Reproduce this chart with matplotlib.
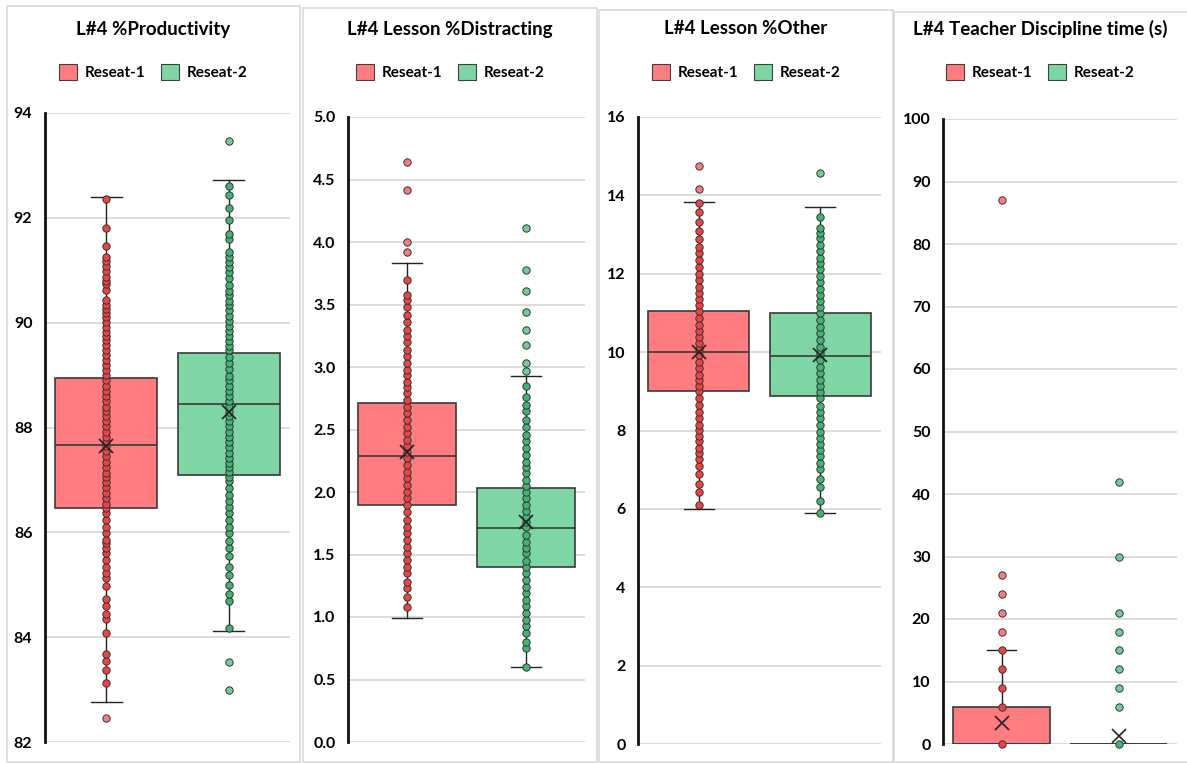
import matplotlib.pyplot as plt
from matplotlib.patches import Rectangle, Patch

W, H = 1187, 763
plt.rcParams['font.family'] = ['Lato', 'DejaVu Sans']

groups = ['Reseat-1', 'Reseat-2']
titles = ['L#4 %Productivity', 'L#4 Lesson %Distracting',
          'L#4 Lesson %Other', 'L#4 Teacher Discipline time (s)']

# --- L#4 %Productivity ---
prod_r1 = [82.46, 83.13, 83.38, 83.54, 83.68, 84.07, 84.34, 84.45, 84.59, 84.73,
           84.98, 85.12, 85.22, 85.33, 85.48, 85.60, 85.70, 85.79, 85.86, 85.98,
           86.11, 86.24, 86.36, 86.46, 86.55, 86.65, 86.75, 86.86, 86.96, 87.05,
           87.14, 87.24, 87.35, 87.46, 87.55, 87.64, 87.72, 87.82, 87.92, 88.02,
           88.12, 88.22, 88.31, 88.40, 88.50, 88.60, 88.70, 88.80, 88.90, 89.00,
           89.10, 89.19, 89.28, 89.38, 89.47, 89.57, 89.66, 89.74, 89.83, 89.92,
           90.01, 90.10, 90.18, 90.26, 90.34, 90.43, 90.62, 90.73, 90.80, 90.88,
           90.98, 91.09, 91.18, 91.26, 91.47, 91.80, 92.35]
prod_r2 = [83.00, 83.52, 84.17, 84.69, 84.83, 84.99, 85.18, 85.34, 85.54, 85.70,
           85.83, 85.98, 86.11, 86.24, 86.36, 86.49, 86.60, 86.71, 86.84, 86.97,
           87.06, 87.15, 87.24, 87.33, 87.42, 87.52, 87.62, 87.72, 87.82, 87.92,
           88.02, 88.12, 88.22, 88.30, 88.40, 88.50, 88.60, 88.70, 88.80, 88.90,
           88.99, 89.11, 89.24, 89.35, 89.47, 89.55, 89.65, 89.74, 89.84, 89.93,
           90.03, 90.13, 90.24, 90.33, 90.41, 90.52, 90.61, 90.71, 90.85, 90.96,
           91.07, 91.16, 91.26, 91.35, 91.59, 91.70, 91.96, 92.18, 92.44, 92.61, 93.47]
prod_q1 = [86.47, 87.10]
prod_med = [87.67, 88.45]
prod_q3 = [88.95, 89.43]
prod_lo = [82.77, 84.12]
prod_hi = [92.40, 92.72]
prod_mean = [87.65, 88.30]

# --- L#4 Lesson %Distracting ---
dist_r1 = [1.08, 1.16, 1.23, 1.28, 1.35, 1.40, 1.46, 1.51, 1.56, 1.62, 1.67, 1.72,
           1.78, 1.84, 1.90, 1.95, 2.00, 2.06, 2.11, 2.16, 2.22, 2.27, 2.32, 2.37,
           2.42, 2.47, 2.52, 2.58, 2.63, 2.68, 2.74, 2.79, 2.84, 2.88, 2.94, 2.98,
           3.03, 3.09, 3.14, 3.20, 3.25, 3.30, 3.36, 3.42, 3.48, 3.54, 3.58, 3.70,
           3.92, 4.00, 4.42, 4.64]
dist_r2 = [0.60, 0.75, 0.80, 0.87, 0.93, 0.98, 1.03, 1.09, 1.14, 1.19, 1.24, 1.30,
           1.35, 1.40, 1.45, 1.51, 1.55, 1.60, 1.66, 1.72, 1.76, 1.80, 1.85, 1.90,
           1.95, 2.00, 2.05, 2.10, 2.15, 2.20, 2.24, 2.30, 2.35, 2.41, 2.46, 2.52,
           2.58, 2.65, 2.70, 2.76, 2.85, 2.97, 3.03, 3.18, 3.30, 3.44, 3.61, 3.78, 4.11]
dist_q1 = [1.90, 1.40]
dist_med = [2.29, 1.71]
dist_q3 = [2.71, 2.03]
dist_lo = [0.99, 0.60]
dist_hi = [3.83, 2.93]
dist_mean = [2.32, 1.76]

# --- L#4 Lesson %Other ---
other_r1 = [6.10, 6.42, 6.64, 6.89, 7.10, 7.27, 7.42, 7.55, 7.72, 7.86, 8.02, 8.15,
            8.32, 8.48, 8.66, 8.83, 9.00, 9.14, 9.29, 9.42, 9.59, 9.76, 9.93, 10.08,
            10.23, 10.38, 10.53, 10.70, 10.87, 11.04, 11.21, 11.35, 11.51, 11.66,
            11.83, 12.00, 12.18, 12.35, 12.52, 12.69, 12.88, 13.09, 13.33, 13.57,
            13.80, 14.16, 14.76]
other_r2 = [5.89, 6.21, 6.56, 6.76, 7.02, 7.17, 7.34, 7.51, 7.66, 7.81, 7.97, 8.15,
            8.32, 8.48, 8.63, 8.83, 8.98, 9.14, 9.29, 9.46, 9.63, 9.80, 9.97, 10.14,
            10.31, 10.48, 10.65, 10.82, 11.00, 11.16, 11.31, 11.46, 11.61, 11.78,
            11.95, 12.12, 12.27, 12.41, 12.57, 12.74, 12.91, 13.04, 13.16, 13.44, 14.57]
other_q1 = [9.00, 8.87]
other_med = [10.00, 9.91]
other_q3 = [11.06, 11.00]
other_lo = [6.00, 5.89]
other_hi = [13.84, 13.70]
other_mean = [10.00, 9.93]

# --- L#4 Teacher Discipline time (s) ---
disc_r1 = [0, 6, 9, 12, 15, 18, 21, 24, 27, 87]
disc_r2 = [0, 6, 9, 12, 15, 18, 21, 30, 42]
disc_q1 = [0, 0]
disc_med = [0, 0]
disc_q3 = [6, 0]
disc_lo = [0, 0]
disc_hi = [15, 0]
disc_mean = [3.36, 1.33]

box_colors = ['#FF7C80', '#7ED6A5']
inner_colors = ['#E84646', '#42B574']
outer_colors = ['#F47E7E', '#70CE98']

panels = [
    dict(pts=(prod_r1, prod_r2), q1=prod_q1, med=prod_med, q3=prod_q3, lo=prod_lo,
         hi=prod_hi, mean=prod_mean, ticks=range(82, 95, 2), fmt='{:.0f}',
         ax=(45, 113, 290, 742), frame=(7, 6, 300, 762)),
    dict(pts=(dist_r1, dist_r2), q1=dist_q1, med=dist_med, q3=dist_q3, lo=dist_lo,
         hi=dist_hi, mean=dist_mean, ticks=[i * 0.5 for i in range(11)], fmt='{:.1f}',
         ax=(348, 117, 585, 742), frame=(303, 8, 597, 762)),
    dict(pts=(other_r1, other_r2), q1=other_q1, med=other_med, q3=other_q3, lo=other_lo,
         hi=other_hi, mean=other_mean, ticks=range(0, 17, 2), fmt='{:.0f}',
         ax=(638, 117, 881, 744), frame=(599, 10, 893, 762)),
    dict(pts=(disc_r1, disc_r2), q1=disc_q1, med=disc_med, q3=disc_q3, lo=disc_lo,
         hi=disc_hi, mean=disc_mean, ticks=range(0, 101, 10), fmt='{:.0f}',
         ax=(943, 119, 1177, 744), frame=(894, 12, 1190, 762)),
]

fig = plt.figure(figsize=(W / 100, H / 100), dpi=100)

for title, p in zip(titles, panels):
    fl, ft, fr, fb = p['frame']
    fig.patches.append(Rectangle((fl / W, 1 - fb / H), (fr - fl) / W, (fb - ft) / H,
                                 transform=fig.transFigure, fill=False,
                                 edgecolor='#D9D9D9', lw=1.2))
    cx = (fl + min(fr, W)) / 2
    fig.text(cx / W, 1 - 29 / H, title, ha='center', va='center',
             fontsize=13.5, fontweight='bold')

    l, t, r, b = p['ax']
    ax = fig.add_axes([l / W, 1 - b / H, (r - l) / W, (b - t) / H])

    stats = []
    for i in range(2):
        stats.append(dict(q1=p['q1'][i], med=p['med'][i], q3=p['q3'][i],
                          whislo=p['lo'][i], whishi=p['hi'][i], fliers=[]))
    bp = ax.bxp(stats, positions=[1, 2], widths=0.83, patch_artist=True,
                showfliers=False, capwidths=0.25, manage_ticks=False,
                boxprops=dict(edgecolor='#3A3A3A', lw=1.2),
                medianprops=dict(color='#3A3A3A', lw=1.2),
                whiskerprops=dict(color='#222222', lw=1.0),
                capprops=dict(color='#222222', lw=1.0))
    for patch, c in zip(bp['boxes'], box_colors):
        patch.set_facecolor(c)

    for i, vals in enumerate(p['pts']):
        inner = [v for v in vals if p['lo'][i] <= v <= p['hi'][i]]
        outer = [v for v in vals if v < p['lo'][i] or v > p['hi'][i]]
        ax.scatter([i + 1] * len(inner), inner, s=28, color=inner_colors[i],
                   edgecolors='#333333', linewidths=0.7, zorder=4, clip_on=False)
        ax.scatter([i + 1] * len(outer), outer, s=28, color=outer_colors[i],
                   edgecolors='#333333', linewidths=0.7, zorder=4, clip_on=False)
    ax.plot([1, 2], p['mean'], ls='none', marker='x', ms=10, mew=1.2,
            color='#222222', zorder=5, clip_on=False)

    ticks = list(p['ticks'])
    ax.set_xlim(0.5, 2.5)
    ax.set_ylim(ticks[0], ticks[-1])
    ax.set_yticks(ticks)
    ax.set_yticklabels([p['fmt'].format(v) for v in ticks],
                       fontsize=11.5, fontweight='bold')
    ax.set_xticks([])
    ax.tick_params(axis='y', length=0, pad=9)
    ax.grid(axis='y', color='#D9D9D9', lw=1.3)
    ax.set_axisbelow(True)
    for s in ['top', 'right', 'bottom']:
        ax.spines[s].set_visible(False)
    ax.spines['left'].set_color('#111111')
    ax.spines['left'].set_linewidth(2)
    ax.spines['left'].set_zorder(6)

    handles = [Patch(facecolor=c, edgecolor='#404040', lw=0.8, label=g)
               for c, g in zip(box_colors, groups)]
    ax.legend(handles=handles, loc='center', bbox_to_anchor=(cx / W, 1 - 72 / H),
              bbox_transform=fig.transFigure, ncol=2, frameon=False,
              prop=dict(size=11, weight='bold'), handlelength=1.2,
              handleheight=1.2, columnspacing=1.0, handletextpad=0.5)

fig.savefig('out.png', dpi=100)
